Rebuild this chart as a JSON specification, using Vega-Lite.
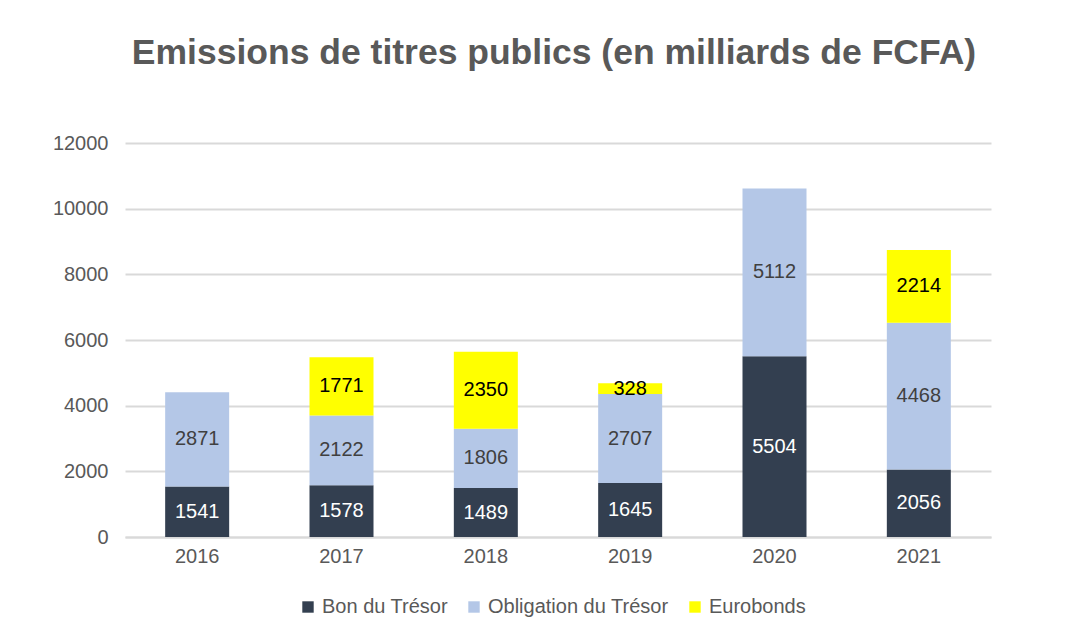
{
  "$schema": "https://vega.github.io/schema/vega-lite/v6.json",
  "width": 866,
  "height": 394,
  "autosize": {"type": "none"},
  "padding": {"left": 125, "top": 143, "right": 82, "bottom": 96},
  "background": "white",
  "config": {
    "font": "Liberation Sans",
    "view": {"stroke": null}
  },
  "title": {
    "text": "Emissions de titres publics (en milliards de FCFA)",
    "font": "Liberation Sans",
    "fontSize": 35.5,
    "fontWeight": "bold",
    "color": "#595959",
    "anchor": "middle",
    "frame": "group",
    "dx": -4,
    "offset": 62
  },
  "data": {
    "values": [
      {"year": "2016", "series": "Bon du Trésor", "order": 1, "value": 1541},
      {"year": "2016", "series": "Obligation du Trésor", "order": 2, "value": 2871},
      {"year": "2017", "series": "Bon du Trésor", "order": 1, "value": 1578},
      {"year": "2017", "series": "Obligation du Trésor", "order": 2, "value": 2122},
      {"year": "2017", "series": "Eurobonds", "order": 3, "value": 1771},
      {"year": "2018", "series": "Bon du Trésor", "order": 1, "value": 1489},
      {"year": "2018", "series": "Obligation du Trésor", "order": 2, "value": 1806},
      {"year": "2018", "series": "Eurobonds", "order": 3, "value": 2350},
      {"year": "2019", "series": "Bon du Trésor", "order": 1, "value": 1645},
      {"year": "2019", "series": "Obligation du Trésor", "order": 2, "value": 2707},
      {"year": "2019", "series": "Eurobonds", "order": 3, "value": 328},
      {"year": "2020", "series": "Bon du Trésor", "order": 1, "value": 5504},
      {"year": "2020", "series": "Obligation du Trésor", "order": 2, "value": 5112},
      {"year": "2021", "series": "Bon du Trésor", "order": 1, "value": 2056},
      {"year": "2021", "series": "Obligation du Trésor", "order": 2, "value": 4468},
      {"year": "2021", "series": "Eurobonds", "order": 3, "value": 2214}
    ]
  },
  "transform": [
    {"stack": "value", "groupby": ["year"], "sort": [{"field": "order"}], "as": ["y0", "y1"]}
  ],
  "encoding": {
    "x": {
      "field": "year",
      "type": "nominal",
      "scale": {"paddingInner": 0.55, "paddingOuter": 0.275},
      "axis": {
        "title": null,
        "labelAngle": 0,
        "labelFontSize": 20,
        "labelColor": "#595959",
        "labelPadding": 9,
        "ticks": false,
        "domainColor": "#D9D9D9",
        "domainWidth": 2
      }
    }
  },
  "layer": [
    {
      "mark": {"type": "bar", "size": 64},
      "encoding": {
        "y": {
          "field": "y0",
          "type": "quantitative",
          "scale": {"domain": [0, 12000], "nice": false},
          "axis": {
            "title": null,
            "values": [0, 2000, 4000, 6000, 8000, 10000, 12000],
            "format": "d",
            "labelFontSize": 20,
            "labelColor": "#595959",
            "labelPadding": 17,
            "ticks": false,
            "domain": false,
            "gridColor": "#D9D9D9",
            "gridWidth": 2
          }
        },
        "y2": {"field": "y1"},
        "color": {
          "field": "series",
          "type": "nominal",
          "scale": {
            "domain": ["Bon du Trésor", "Obligation du Trésor", "Eurobonds"],
            "range": ["#333F50", "#B4C7E7", "#FFFF00"]
          },
          "legend": {
            "title": null,
            "orient": "none",
            "direction": "horizontal",
            "legendX": 173,
            "legendY": 454,
            "symbolType": "square",
            "symbolSize": 130,
            "symbolStrokeWidth": 0,
            "labelFontSize": 20,
            "labelColor": "#595959",
            "labelOffset": 4,
            "labelLimit": 400,
            "columnPadding": 16
          }
        }
      }
    },
    {
      "transform": [
        {"fold": ["y0", "y1"], "as": ["edge", "pos"]}
      ],
      "mark": {"type": "text", "fontSize": 20, "baseline": "middle"},
      "encoding": {
        "y": {"aggregate": "mean", "field": "pos", "type": "quantitative"},
        "text": {"field": "value", "type": "quantitative", "format": "d"},
        "detail": {"field": "series"},
        "color": {
          "field": "series",
          "type": "nominal",
          "scale": {
            "domain": ["Bon du Trésor", "Obligation du Trésor", "Eurobonds"],
            "range": ["#FFFFFF", "#404040", "#000000"]
          },
          "legend": null
        }
      }
    }
  ],
  "resolve": {"scale": {"color": "independent"}}
}
